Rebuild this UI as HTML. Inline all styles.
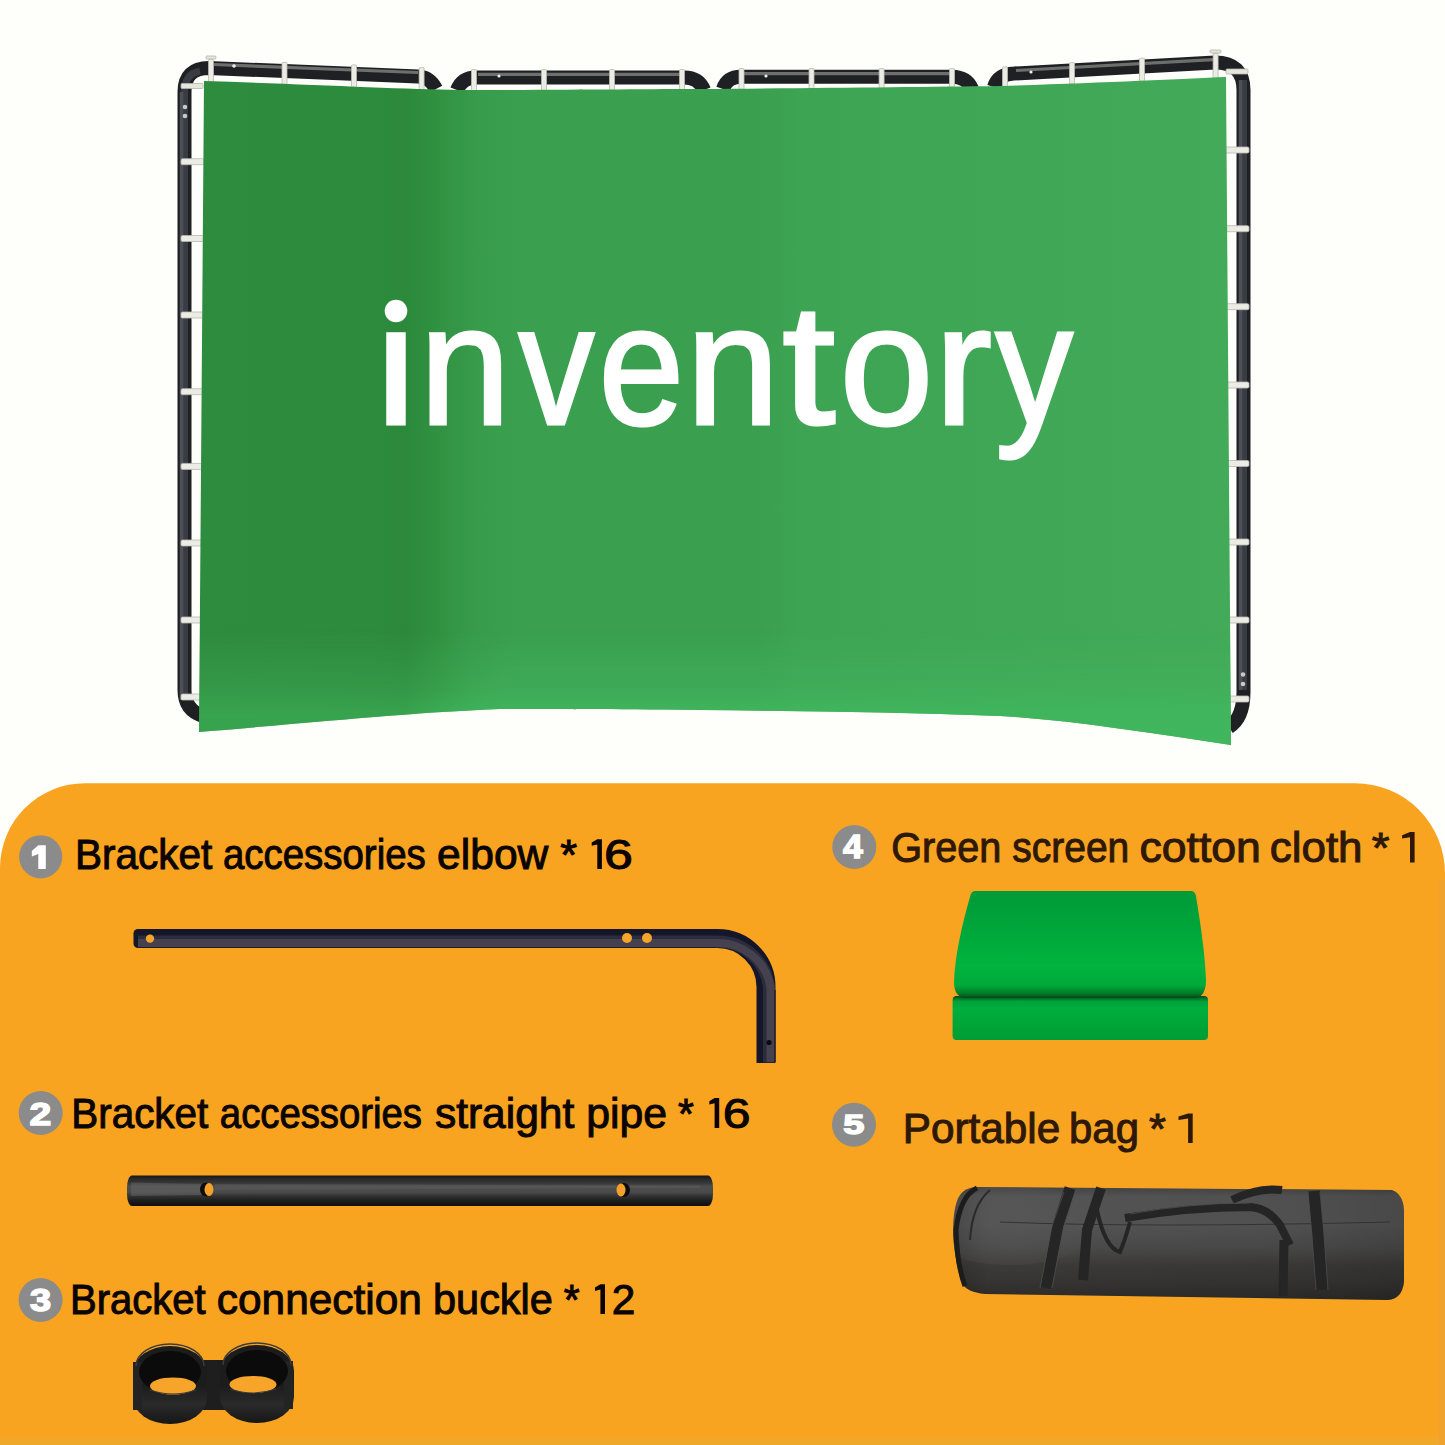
<!DOCTYPE html>
<html>
<head>
<meta charset="utf-8">
<style>
html,body{margin:0;padding:0;background:#fefefb;}
body{width:1445px;height:1445px;overflow:hidden;position:relative;font-family:"Liberation Sans",sans-serif;}
svg{position:absolute;left:0;top:0;display:block;}
</style>
</head>
<body>
<svg width="1445" height="1445" viewBox="0 0 1445 1445">
<defs>
  <linearGradient id="clothH" x1="199" y1="0" x2="1231" y2="0" gradientUnits="userSpaceOnUse">
    <stop offset="0" stop-color="#2e8c3e"/>
    <stop offset="0.171" stop-color="#2d8b3d"/>
    <stop offset="0.2" stop-color="#2c893c"/>
    <stop offset="0.23" stop-color="#309141"/>
    <stop offset="0.265" stop-color="#379b4b"/>
    <stop offset="0.311" stop-color="#3aa050"/>
    <stop offset="0.543" stop-color="#3aa050"/>
    <stop offset="0.581" stop-color="#3da453"/>
    <stop offset="1" stop-color="#42aa58"/>
  </linearGradient>
  <linearGradient id="clothV" x1="0" y1="630" x2="0" y2="745" gradientUnits="userSpaceOnUse">
    <stop offset="0" stop-color="#42b45e" stop-opacity="0"/>
    <stop offset="0.5" stop-color="#42b45e" stop-opacity="0.5"/>
    <stop offset="0.7" stop-color="#40b75e" stop-opacity="0.85"/>
    <stop offset="1" stop-color="#40b75e" stop-opacity="0.9"/>
  </linearGradient>
  <linearGradient id="maskH" x1="199" y1="0" x2="1231" y2="0" gradientUnits="userSpaceOnUse">
    <stop offset="0" stop-color="#a0a0a0"/>
    <stop offset="0.2" stop-color="#a0a0a0"/>
    <stop offset="0.29" stop-color="#ffffff"/>
    <stop offset="1" stop-color="#ffffff"/>
  </linearGradient>
  <mask id="mBottom" maskUnits="userSpaceOnUse" x="150" y="550" width="1150" height="220">
    <rect x="150" y="550" width="1150" height="220" fill="url(#maskH)"/>
  </mask>
  <linearGradient id="orangeBg" x1="0" y1="783" x2="0" y2="1445" gradientUnits="userSpaceOnUse">
    <stop offset="0" stop-color="#f9a420"/>
    <stop offset="1" stop-color="#f9a420"/>
  </linearGradient>
</defs>

<!-- ===== TOP PHOTO: frame ===== -->
<g id="frame" fill="none" stroke-linecap="butt">
  <g stroke="#1f2024" stroke-width="14">
    <path d="M203,716 Q184.5,710 184.5,690 V92 Q184.5,68 209,68 L418,76.5 Q430,77 436,89"/>
    <path d="M457,90 Q462,77.4 476,77.4 L684,77.4 Q699,77.4 704,90"/>
    <path d="M723,89 Q727,76.8 741,76.8 L952,76.8 Q967,77 972,89"/>
    <path d="M994,87 Q998,74 1014,73.5 L1215,62.5 Q1243.5,62.5 1243.5,90 V692 Q1243.5,718 1229,727"/>
  </g>
  <g stroke="#3a3c43" stroke-width="7">
    <path d="M184.5,700 V92 Q184.5,74 200,71"/>
    <path d="M1243.5,80 V690"/>
  </g>
  <g stroke="#4d5058" stroke-width="3.5">
    <path d="M181.5,700 V92"/>
    <path d="M1240.5,80 V690"/>
  </g>
  <g stroke="#7c7e7a" stroke-width="3.2" opacity="0.85">
    <path d="M214,64.5 L418,72.5"/>
    <path d="M478,74.3 L684,74.3"/>
    <path d="M743,73.7 L952,73.7"/>
    <path d="M1016,70.5 L1213,59.6"/>
  </g>
</g>
<g fill="#ecebe4" stroke="#b9b9b2" stroke-width="0.8">
<rect x="181" y="158.7" width="23" height="6" rx="1.5"/><rect x="181" y="235.5" width="23" height="6" rx="1.5"/><rect x="181" y="312.0" width="23" height="6" rx="1.5"/><rect x="181" y="388.7" width="23" height="6" rx="1.5"/><rect x="181" y="463.4" width="23" height="6" rx="1.5"/><rect x="181" y="540.0" width="23" height="6" rx="1.5"/><rect x="181" y="617.0" width="23" height="6" rx="1.5"/><rect x="181" y="694.0" width="23" height="6" rx="1.5"/><rect x="1224" y="147.0" width="25" height="6" rx="1.5"/><rect x="1224" y="225.7" width="25" height="6" rx="1.5"/><rect x="1224" y="303.7" width="25" height="6" rx="1.5"/><rect x="1224" y="382.0" width="25" height="6" rx="1.5"/><rect x="1224" y="460.5" width="25" height="6" rx="1.5"/><rect x="1224" y="539.0" width="25" height="6" rx="1.5"/><rect x="1224" y="617.0" width="25" height="6" rx="1.5"/><rect x="1224" y="696.0" width="25" height="6" rx="1.5"/><rect x="208.5" y="59.4" width="5" height="22.8" rx="1"/><rect x="282.0" y="62.3" width="5" height="22.6" rx="1"/><rect x="351.5" y="64.9" width="5" height="22.3" rx="1"/><rect x="419.1" y="67.6" width="5" height="22.1" rx="1"/><rect x="471.5" y="69.5" width="5" height="21.4" rx="1"/><rect x="541.5" y="69.5" width="5" height="21.2" rx="1"/><rect x="609.5" y="69.5" width="5" height="20.9" rx="1"/><rect x="679.5" y="69.5" width="5" height="20.6" rx="1"/><rect x="739.0" y="68.5" width="5" height="21.1" rx="1"/><rect x="809.0" y="68.5" width="5" height="20.4" rx="1"/><rect x="879.1" y="68.5" width="5" height="19.7" rx="1"/><rect x="949.5" y="68.5" width="5" height="19.0" rx="1"/><rect x="1002.5" y="66.9" width="5" height="20.0" rx="1"/><rect x="1069.5" y="62.6" width="5" height="21.5" rx="1"/><rect x="1139.5" y="58.2" width="5" height="23.2" rx="1"/><rect x="1213.1" y="53.5" width="5" height="24.9" rx="1"/>
</g>
<g fill="#e6e5de" stroke="#b5b5ae" stroke-width="0.8">
  <rect x="181" y="83.5" width="22" height="5" rx="1"/>
  <rect x="1226" y="69" width="22" height="5" rx="1"/>
  <rect x="1210" y="50" width="11" height="3" rx="1"/>
  <rect x="206" y="56" width="10" height="3" rx="1"/>
</g>
<g fill="#c9c9c4">
  <circle cx="185" cy="107" r="2.3"/><circle cx="185" cy="116" r="2.3"/>
  <circle cx="1243" cy="674.5" r="2.3"/><circle cx="1243" cy="684" r="2.3"/>
</g>
<g fill="#f0f0f0"><circle cx="234" cy="66" r="1.8"/><circle cx="499" cy="76" r="1.6"/><circle cx="766" cy="76" r="1.6"/><circle cx="1031" cy="72" r="1.6"/></g>

<!-- ===== cloth ===== -->
<path id="cloth" d="M204,81 C300,84 400,89 460,90 C560,90 650,89 700,89 C820,88 920,87 1000,86 C1100,83 1180,79 1226,77 L1231,745 C1150,733 1070,720 1000,716 C900,712 800,711 700,710 C600,709 540,709 500,709 C420,712 330,721 199,732 Z" fill="url(#clothH)"/>
<path d="M204,81 C300,84 400,89 460,90 C560,90 650,89 700,89 C820,88 920,87 1000,86 C1100,83 1180,79 1226,77 L1231,745 C1150,733 1070,720 1000,716 C900,712 800,711 700,710 C600,709 540,709 500,709 C420,712 330,721 199,732 Z" fill="url(#clothV)" mask="url(#mBottom)"/>

<!-- inventory text -->
<g font-family="Liberation Sans" font-size="170" fill="#ffffff" stroke="#ffffff" stroke-width="3">
<text transform="translate(370.51,424) scale(1.0813,1)" >&#x131;</text>
<text transform="translate(419.83,424) scale(0.9572,1)" >n</text>
<text transform="translate(518.62,424) scale(0.8925,1)" >v</text>
<text transform="translate(598.85,424) scale(0.9001,1)" >e</text>
<text transform="translate(686.37,424) scale(0.9838,1)" >n</text>
<text transform="translate(782.29,424) scale(1.1247,1)" >t</text>
<text transform="translate(839.83,424) scale(0.9884,1)" >o</text>
<text transform="translate(934.80,424) scale(1.0110,1)" >r</text>
<text transform="translate(995.39,424) scale(0.9100,1)" >y</text>
</g>
<circle cx="396" cy="311" r="11.3" fill="#ffffff"/>

<!-- ===== ORANGE PANEL ===== -->
<path d="M0,1445 V868 A85,85 0 0 1 85,783.2 H1355 A90,90 0 0 1 1445,873.2 V1445 Z" fill="url(#orangeBg)"/>

<rect x="0" y="1438" width="1445" height="7" fill="#f0a82a"/>
<rect x="1439" y="880" width="6" height="565" fill="#f0a22e"/>
<!-- number badges -->
<g fill="#8b8b8b">
  <circle cx="40.7" cy="856.8" r="21.6"/>
  <circle cx="40.7" cy="1113" r="22"/>
  <circle cx="40.6" cy="1300" r="22"/>
  <circle cx="854.3" cy="847" r="22"/>
  <circle cx="854" cy="1124.7" r="22"/>
</g>
<g fill="#ffffff" stroke="#ffffff" stroke-width="1.4" font-family="Liberation Sans" font-weight="bold">
<text font-size="31.79" transform="translate(29.50,1124.90) scale(1.2330,1)" >2</text>
<text font-size="31.71" transform="translate(29.97,1311.14) scale(1.2002,1)" >3</text>
<text font-size="32.85" transform="translate(843.02,858.30) scale(1.0845,1)" >4</text>
<text font-size="28.52" transform="translate(843.26,1134.12) scale(1.3342,1)" >5</text>
</g>
<path d="M38.3,845.2 H45.8 V869 H38.3 V854 L31.8,856.4 V851 Z" fill="#ffffff"/>

<!-- labels -->
<g font-family="Liberation Sans" font-size="42.0" stroke-width="1.0" style="font-kerning:none">
<g fill="#0b0404" stroke="#0b0404">
<text x="74.96" y="869" textLength="137.25" lengthAdjust="spacingAndGlyphs" >Bracket</text>
<text x="223.03" y="869" textLength="202.70" lengthAdjust="spacingAndGlyphs" >accessories</text>
<text x="437.10" y="869" textLength="111.19" lengthAdjust="spacingAndGlyphs" >elbow</text>
<text x="560.32" y="869" textLength="16.84" lengthAdjust="spacingAndGlyphs" >*</text>
<path stroke="none" d="M597.3,839.2 H601.9 V869.1 H597.3 V844.4 L591.7,845.8 V842.4 Z"/>
<text x="603.98" y="869" textLength="28.88" lengthAdjust="spacingAndGlyphs" >6</text>
</g>
<g fill="#0b0404" stroke="#0b0404">
<text x="71.27" y="1128" textLength="136.95" lengthAdjust="spacingAndGlyphs" >Bracket</text>
<text x="219.83" y="1128" textLength="202.20" lengthAdjust="spacingAndGlyphs" >accessories</text>
<text x="434.92" y="1128" textLength="139.38" lengthAdjust="spacingAndGlyphs" >straight</text>
<text x="586.15" y="1128" textLength="80.84" lengthAdjust="spacingAndGlyphs" >pipe</text>
<text x="678.03" y="1128" textLength="15.82" lengthAdjust="spacingAndGlyphs" >*</text>
<path stroke="none" d="M714.6,1098 H719.2 V1128 H714.6 V1103.2 L709.3,1104.6 V1101.2 Z"/>
<text x="722.76" y="1128" textLength="27.74" lengthAdjust="spacingAndGlyphs" >6</text>
</g>
<g fill="#0b0404" stroke="#0b0404">
<text x="69.99" y="1314" textLength="135.72" lengthAdjust="spacingAndGlyphs" >Bracket</text>
<text x="216.80" y="1314" textLength="205.15" lengthAdjust="spacingAndGlyphs" >connection</text>
<text x="433.02" y="1314" textLength="119.83" lengthAdjust="spacingAndGlyphs" >buckle</text>
<text x="563.83" y="1314" textLength="15.92" lengthAdjust="spacingAndGlyphs" >*</text>
<path stroke="none" d="M600.4,1284.3 H605 V1314 H600.4 V1289.5 L595,1290.9 V1287.5 Z"/>
<text x="611.87" y="1314" textLength="23.55" lengthAdjust="spacingAndGlyphs" >2</text>
</g>
<g fill="#2e1808" stroke="#2e1808">
<text x="891.28" y="862" textLength="110.12" lengthAdjust="spacingAndGlyphs" >Green</text>
<text x="1012.28" y="862" textLength="116.99" lengthAdjust="spacingAndGlyphs" >screen</text>
<text x="1139.44" y="862" textLength="121.43" lengthAdjust="spacingAndGlyphs" >cotton</text>
<text x="1269.76" y="862" textLength="92.77" lengthAdjust="spacingAndGlyphs" >cloth</text>
<text x="1371.71" y="862" textLength="17.76" lengthAdjust="spacingAndGlyphs" >*</text>
<path stroke="none" d="M1410.0,832 H1414.6 V862.4 H1410.0 V837.2 L1402.1,838.6 V835.2 Z"/>
</g>
<g fill="#2e1808" stroke="#2e1808">
<text x="902.84" y="1143" textLength="157.34" lengthAdjust="spacingAndGlyphs" >Portable</text>
<text x="1069.10" y="1143" textLength="69.80" lengthAdjust="spacingAndGlyphs" >bag</text>
<text x="1148.92" y="1143" textLength="16.95" lengthAdjust="spacingAndGlyphs" >*</text>
<path stroke="none" d="M1188.1,1113.4 H1192.7 V1143 H1188.1 V1118.6 L1178.5,1120.0 V1116.6 Z"/>
</g>
</g>

<!-- ===== OBJECT 1: elbow pipe ===== -->
<g id="elbow" fill="none">
  <rect x="133.5" y="929" width="12" height="19" rx="4.5" fill="#14162a"/>
  <path d="M140,938.5 H717.5 A48.5,48.5 0 0 1 766,987 V1063" stroke="#14162a" stroke-width="19"/>
  <path d="M138,941.5 H717.5 A51.5,51.5 0 0 1 769,987 V1062.5" stroke="#2c2c3c" stroke-width="12"/>
  <path d="M138,943 H717.5 A53,53 0 0 1 770.5,987 V1062" stroke="#45414f" stroke-width="8"/>
  <path d="M138,947.5 H715" stroke="#1d1c24" stroke-width="1.2"/><path d="M775,990 V1062" stroke="#1d1c24" stroke-width="1.2"/>
</g>
<g fill="#f6a52a">
  <circle cx="150" cy="938.6" r="4.2"/>
  <circle cx="627" cy="938" r="5"/>
  <circle cx="647" cy="938" r="5"/>
</g>
<circle cx="769" cy="1042.5" r="2.6" fill="#0a0a10"/>

<!-- ===== OBJECT 2: straight pipe ===== -->
<defs>
  <linearGradient id="pipeV" x1="0" y1="1175.5" x2="0" y2="1206" gradientUnits="userSpaceOnUse">
    <stop offset="0" stop-color="#161616"/>
    <stop offset="0.12" stop-color="#2a2a2a"/>
    <stop offset="0.25" stop-color="#383838"/>
    <stop offset="0.36" stop-color="#4e4e4e"/>
    <stop offset="0.55" stop-color="#4a4a4a"/>
    <stop offset="0.66" stop-color="#343434"/>
    <stop offset="0.82" stop-color="#1e1e1e"/>
    <stop offset="1" stop-color="#0e0e0e"/>
  </linearGradient>
</defs>
<rect x="127" y="1175.5" width="586" height="30.5" rx="5" ry="12" fill="url(#pipeV)"/>
<path d="M131,1182.5 L205,1184 L205,1195 L131,1196 Z" fill="#6a6a6a" opacity="0.45"/>
<path d="M215,1184 L700,1185.5 L700,1188 L215,1190 Z" fill="#6a6a6a" opacity="0.3"/>
<g>
  <ellipse cx="206" cy="1189.5" rx="6" ry="7" fill="#0c0c0c"/>
  <ellipse cx="209" cy="1189.5" rx="4.5" ry="6.5" fill="#f4a02a"/>
  <ellipse cx="624" cy="1190" rx="6" ry="7" fill="#0c0c0c"/>
  <ellipse cx="621" cy="1190" rx="4.5" ry="6.5" fill="#f4a02a"/>
</g>

<!-- ===== OBJECT 3: buckle ===== -->
<g id="buckle">
  <defs>
    <linearGradient id="bkFront" x1="0" y1="1385" x2="0" y2="1424" gradientUnits="userSpaceOnUse">
      <stop offset="0" stop-color="#1c1c1c"/>
      <stop offset="0.5" stop-color="#2a2a2a"/>
      <stop offset="1" stop-color="#161616"/>
    </linearGradient>
  </defs>
  <rect x="200" y="1360" width="28" height="50" fill="#1e1e1e"/>
  <path d="M133,1372 A37,26 0 0 1 207,1372 V1398 A37,26 0 0 1 133,1398 Z" fill="url(#bkFront)"/>
  <path d="M220,1371 A37,26 0 0 1 294,1371 V1397 A37,26 0 0 1 220,1397 Z" fill="url(#bkFront)"/>
  <rect x="133" y="1362" width="9" height="48" fill="#232323"/>
  <rect x="284" y="1361" width="9" height="48" fill="#232323"/>
  <ellipse cx="170" cy="1372" rx="31" ry="21" fill="#0b0b0b"/>
  <ellipse cx="257" cy="1371" rx="31" ry="21" fill="#0b0b0b"/>
  <path d="M136,1366 A34,22 0 0 1 204,1366" fill="none" stroke="#3c3c3c" stroke-width="1.6"/>
  <path d="M223,1365 A34,22 0 0 1 291,1365" fill="none" stroke="#3c3c3c" stroke-width="1.6"/>
  <ellipse cx="173" cy="1386" rx="23" ry="8.6" fill="#f6a52a"/>
  <ellipse cx="253" cy="1384.5" rx="23.5" ry="8.6" fill="#f6a52a"/>
  <path d="M150,1390 Q173,1398 196,1390" fill="none" stroke="#3a3a3a" stroke-width="1.2"/>
  <path d="M230,1389 Q253,1397 276,1389" fill="none" stroke="#3a3a3a" stroke-width="1.2"/>
</g>

<!-- ===== OBJECT 4: folded green cloth ===== -->
<defs>
  <linearGradient id="foldTop" x1="0" y1="891" x2="0" y2="998" gradientUnits="userSpaceOnUse">
    <stop offset="0" stop-color="#009b38"/>
    <stop offset="0.3" stop-color="#00a43a"/>
    <stop offset="0.7" stop-color="#00b43e"/>
    <stop offset="0.88" stop-color="#00aa3a"/>
    <stop offset="0.96" stop-color="#027a28"/>
    <stop offset="1" stop-color="#034516"/>
  </linearGradient>
  <linearGradient id="foldBot" x1="0" y1="996" x2="0" y2="1040" gradientUnits="userSpaceOnUse">
    <stop offset="0" stop-color="#034516"/>
    <stop offset="0.12" stop-color="#00a23a"/>
    <stop offset="0.3" stop-color="#00ae3e"/>
    <stop offset="0.7" stop-color="#00a436"/>
    <stop offset="1" stop-color="#009c34"/>
  </linearGradient>
</defs>
<rect x="952.6" y="996" width="255.4" height="44" rx="4" fill="url(#foldBot)"/>
<path d="M975,891 H1191 Q1195,891 1196,896 C1199,915 1205,950 1206,980 Q1206,996 1196,998 H964 Q954,996 954,982 C955,955 962,925 970,897 Q971,891 975,891 Z" fill="url(#foldTop)"/>

<!-- ===== OBJECT 5: bag ===== -->
<defs>
  <linearGradient id="bagG" x1="0" y1="1185" x2="0" y2="1300" gradientUnits="userSpaceOnUse">
    <stop offset="0" stop-color="#404040"/>
    <stop offset="0.1" stop-color="#545454"/>
    <stop offset="0.35" stop-color="#545454"/>
    <stop offset="0.55" stop-color="#4a4a4a"/>
    <stop offset="0.7" stop-color="#3c3a38"/>
    <stop offset="0.85" stop-color="#363432"/>
    <stop offset="1" stop-color="#2a2a2a"/>
  </linearGradient>
  <linearGradient id="bagH" x1="952" y1="0" x2="1404" y2="0" gradientUnits="userSpaceOnUse">
    <stop offset="0" stop-color="#000" stop-opacity="0.18"/>
    <stop offset="0.08" stop-color="#000" stop-opacity="0"/>
    <stop offset="0.75" stop-color="#000" stop-opacity="0.05"/>
    <stop offset="1" stop-color="#000" stop-opacity="0.14"/>
  </linearGradient>
  <clipPath id="bagClip"><path d="M975,1187 L1392,1190 Q1403,1194 1404,1210 L1404,1282 Q1402,1299 1388,1300 L985,1294 Q966,1292 962,1283 Q955,1262 953,1235 Q953,1205 960,1195 Q965,1188 975,1187 Z"/></clipPath>
  <radialGradient id="bagHi" cx="1010" cy="1225" r="90" gradientUnits="userSpaceOnUse">
    <stop offset="0" stop-color="#5a5a5a" stop-opacity="0.35"/>
    <stop offset="1" stop-color="#5a5a5a" stop-opacity="0"/>
  </radialGradient>
</defs>
<path id="bagBody" d="M975,1187 L1392,1190 Q1403,1194 1404,1210 L1404,1282 Q1402,1299 1388,1300 L985,1294 Q966,1292 962,1283 Q955,1262 953,1235 Q953,1205 960,1195 Q965,1188 975,1187 Z" fill="url(#bagG)"/>
<path d="M975,1187 L1392,1190 Q1403,1194 1404,1210 L1404,1282 Q1402,1299 1388,1300 L985,1294 Q966,1292 962,1283 Q955,1262 953,1235 Q953,1205 960,1195 Q965,1188 975,1187 Z" fill="url(#bagH)"/>
<ellipse cx="1010" cy="1225" rx="90" ry="40" fill="url(#bagHi)" clip-path="url(#bagClip)"/>
<path d="M977,1188 Q960,1196 956,1230 Q957,1265 965,1286" fill="none" stroke="#1c1c1c" stroke-width="5"/>
<path d="M990,1190 Q972,1205 970,1240" fill="none" stroke="#2a2a2a" stroke-width="2"/>
<path d="M1000,1222 Q1150,1228 1390,1222" fill="none" stroke="#333" stroke-width="1"/>
<g stroke="#252525" fill="none" stroke-linecap="butt">
  <path d="M1070,1188 L1058,1225 L1046,1288" stroke-width="11"/>
  <path d="M1101,1188 L1087,1230 L1083,1280" stroke-width="10"/>
  <path d="M1314,1191 L1318,1235 L1322,1290" stroke-width="12"/>
  <path d="M1284,1240 L1283,1296" stroke-width="9"/>
  <path d="M1125,1218 Q1190,1207 1250,1207 Q1268,1208 1280,1225 L1290,1245" stroke-width="8"/>
  <path d="M1097,1210 Q1105,1248 1120,1252 Q1125,1240 1130,1222" stroke-width="4"/>
  <path d="M1232,1200 Q1258,1187 1282,1190" stroke-width="8"/>
</g>
<g stroke="#4e4e4e" fill="none" stroke-width="0.8">
  <path d="M1064,1192 L1052,1226 L1040,1288"/>
  <path d="M1076,1190 L1064,1226 L1052,1288"/>
  <path d="M1308,1192 L1312,1235 L1316,1290"/>
  <path d="M1320,1192 L1324,1235 L1328,1290"/>
  <path d="M1130,1214 Q1190,1203 1250,1203"/>
</g>

</svg>
</body>
</html>
